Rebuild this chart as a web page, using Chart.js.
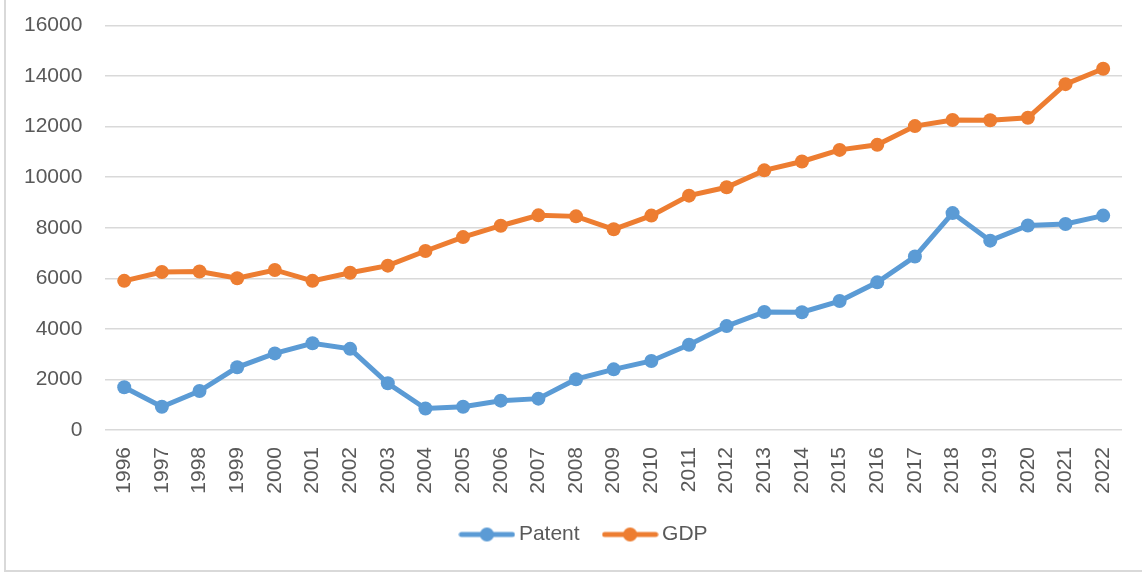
<!DOCTYPE html>
<html>
<head>
<meta charset="utf-8">
<script src="https://cdn.jsdelivr.net/npm/chart.js@4/dist/chart.umd.min.js"></script>
<style>
  html, body { margin: 0; padding: 0; background: #fff; }
  #wrap { position: relative; width: 1142px; height: 573px; overflow: hidden; }
  #frame { position: absolute; left: 4px; top: 0; width: 1140px; height: 570px;
           border-left: 2px solid #D9D9D9; border-bottom: 2px solid #D9D9D9; }
  canvas { position: absolute; left: 0; top: 0; }
</style>
</head>
<body>
<div id="wrap">
  <div id="frame"></div>
  <canvas id="c" width="1142" height="573"></canvas>
</div>
<script>
const years = ['1996','1997','1998','1999','2000','2001','2002','2003','2004','2005','2006','2007','2008','2009','2010','2011','2012','2013','2014','2015','2016','2017','2018','2019','2020','2021','2022'];
const patent = [1690, 920, 1540, 2480, 3030, 3430, 3210, 1850, 850, 920, 1160, 1240, 2010, 2400, 2730, 3370, 4110, 4670, 4660, 5100, 5840, 6860, 8580, 7490, 8090, 8150, 8480];
const gdp = [5900, 6250, 6270, 6000, 6330, 5900, 6220, 6500, 7080, 7630, 8080, 8490, 8450, 7940, 8480, 9270, 9600, 10270, 10620, 11080, 11280, 12020, 12260, 12250, 12350, 13680, 14290];
const yTicks = [0, 2000, 4000, 6000, 8000, 10000, 12000, 14000, 16000];

const BLUE = '#5B9BD5';
const ORANGE = '#ED7D31';
const TEXT = '#595959';
const FONT = "'Liberation Sans', Arial, sans-serif";

function legendIcon(color) {
  const cv = document.createElement('canvas');
  cv.width = 57; cv.height = 16;
  const g = cv.getContext('2d');
  g.strokeStyle = color; g.lineWidth = 5; g.lineCap = 'round';
  g.beginPath(); g.moveTo(3, 8); g.lineTo(54, 8); g.stroke();
  g.fillStyle = color;
  g.beginPath(); g.arc(28.5, 8, 7, 0, Math.PI * 2); g.fill();
  return cv;
}
const icons = [legendIcon(BLUE), legendIcon(ORANGE)];

const legendShift = {
  id: 'legendShift',
  afterLayout(chart) {
    if (chart.legend) { chart.legend.left += 18.5; chart.legend.right += 18.5; }
  }
};

new Chart(document.getElementById('c'), {
  type: 'line',
  data: {
    labels: years,
    datasets: [
      { label: 'Patent', data: patent, borderColor: BLUE, backgroundColor: BLUE,
        pointBackgroundColor: BLUE, pointBorderColor: BLUE, borderWidth: 5,
        pointRadius: 7, pointBorderWidth: 0, tension: 0 },
      { label: 'GDP', data: gdp, borderColor: ORANGE, backgroundColor: ORANGE,
        pointBackgroundColor: ORANGE, pointBorderColor: ORANGE, borderWidth: 5,
        pointRadius: 7, pointBorderWidth: 0, tension: 0 }
    ]
  },
  plugins: [legendShift],
  options: {
    responsive: false,
    devicePixelRatio: 1,
    animation: false,
    layout: { padding: { left: 14, right: 20, top: 25.5, bottom: 18 } },
    scales: {
      x: {
        offset: true,
        grid: { display: true, drawOnChartArea: false, drawTicks: true, tickLength: 14, tickColor: 'rgba(0,0,0,0)' },
        border: { display: false },
        ticks: { color: TEXT, font: { family: FONT, size: 21 }, minRotation: 90, maxRotation: 90, padding: 3, autoSkip: false },
        afterFit: (scale) => { scale.height = 65; }
      },
      y: {
        min: 0, max: 16000,
        afterBuildTicks: (axis) => { axis.ticks = yTicks.map(v => ({ value: v })); },
        grid: { color: '#D9D9D9', lineWidth: 1.5, drawTicks: true, tickLength: 13, tickColor: 'rgba(0,0,0,0)' },
        border: { display: false },
        ticks: { color: TEXT, font: { family: FONT, size: 21 }, padding: 10, callback: (v) => String(v) }
      }
    },
    plugins: {
      tooltip: { enabled: false },
      legend: {
        position: 'bottom',
        labels: {
          color: TEXT,
          font: { family: FONT, size: 21 },
          usePointStyle: true,
          pointStyleWidth: 43,
          padding: 29,
          generateLabels: (chart) => chart.data.datasets.map((ds, i) => ({
            text: ds.label, pointStyle: icons[i], fillStyle: ds.borderColor,
            strokeStyle: ds.borderColor, lineWidth: 0, hidden: false, datasetIndex: i,
            fontColor: TEXT
          }))
        }
      }
    }
  }
});
</script>
</body>
</html>
